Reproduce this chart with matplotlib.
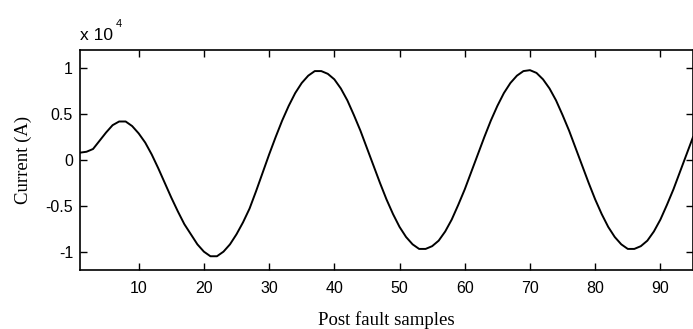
"""Post fault current waveform."""
import matplotlib
matplotlib.use("Agg")
import matplotlib.pyplot as plt

# sample index after the fault
samples = list(range(1, 96))

# current in amps
current = [
    800, 900, 1200, 2100, 3000, 3800, 4200, 4200, 3700, 2900,
    1900, 600, -900, -2500, -4100, -5600, -7000, -8100, -9200, -10000,
    -10500, -10500, -10000, -9200, -8100, -6800, -5300, -3400, -1400, 600,
    2500, 4300, 5900, 7300, 8400, 9200, 9700, 9700, 9400, 8800,
    7800, 6500, 4900, 3200, 1300, -600, -2500, -4300, -5900, -7300,
    -8400, -9200, -9700, -9700, -9400, -8800, -7800, -6500, -4900, -3200,
    -1300, 600, 2500, 4300, 5900, 7300, 8400, 9200, 9700, 9800,
    9500, 8800, 7800, 6500, 4900, 3200, 1300, -600, -2500, -4300,
    -5900, -7300, -8400, -9200, -9700, -9700, -9400, -8800, -7800, -6500,
    -4900, -3200, -1300, 600, 2500,
]

x_ticks = [10, 20, 30, 40, 50, 60, 70, 80, 90]
y_ticks = [-1, -0.5, 0, 0.5, 1]
y_tick_labels = ["-1", "-0.5", "0", "0.5", "1"]
scale = 1e4

fig = plt.figure(figsize=(6.93, 3.29), dpi=100)
fig.set_facecolor("white")
ax = fig.add_axes([80 / 693, 1 - 270 / 329, 613 / 693, 220 / 329])

ax.plot(samples, [c / scale for c in current], color="black", linewidth=1.4)

ax.set_xlim(1, 95)
ax.set_ylim(-1.2, 1.2)
ax.set_xticks(x_ticks)
ax.set_yticks(y_ticks)
ax.set_yticklabels(y_tick_labels)
ax.tick_params(direction="in", length=5, width=1, top=True, right=True,
               labelsize=11.5)
ax.tick_params(axis="x", pad=8)
ax.tick_params(axis="y", pad=5)
for lbl in ax.get_xticklabels() + ax.get_yticklabels():
    lbl.set_family("Liberation Sans")
for spine in ax.spines.values():
    spine.set_linewidth(1.2)

ax.set_xlabel("Post fault samples", family="Liberation Serif", fontsize=13.5,
              labelpad=11)
ax.set_ylabel("Current (A)", family="Liberation Serif", fontsize=13.5,
              labelpad=10)

# MATLAB style exponent above the axes
fig.text(80 / 693, 1 - 40 / 329, "x 10", family="Liberation Sans",
         fontsize=12.5, ha="left", va="baseline")
fig.text(116 / 693, 1 - 27 / 329, "4", family="Liberation Sans", fontsize=8,
         ha="left", va="baseline")

fig.savefig("out.png", dpi=100)
